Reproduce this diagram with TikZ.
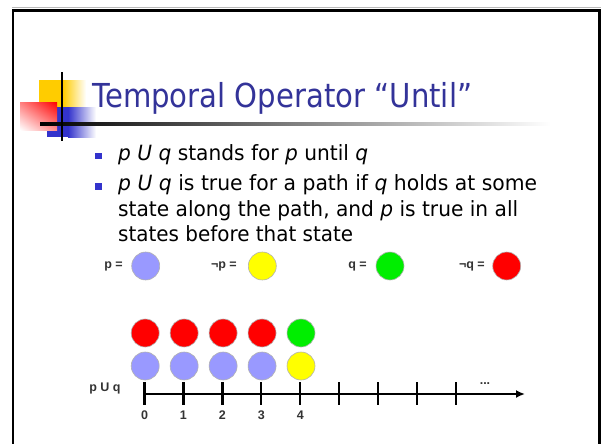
\documentclass[tikz,border=0pt]{standalone}
\usepackage{fontspec}
\setmainfont{DejaVu Sans}
\newfontfamily\lblfont{Liberation Sans}
\usepackage{graphicx}
\usetikzlibrary{arrows.meta,shadings}
\definecolor{titleblue}{HTML}{333399}
\definecolor{bulletblue}{HTML}{3333CC}
\definecolor{logoyellow}{HTML}{FFCC00}
\definecolor{logoblue}{HTML}{3333CC}
\definecolor{logored}{HTML}{FF0000}
\definecolor{pblue}{HTML}{9999FF}
\definecolor{npyellow}{HTML}{FFFF00}
\definecolor{qgreen}{HTML}{00EE00}
\definecolor{nqred}{HTML}{FF0000}
\definecolor{labelgray}{HTML}{333333}
\newcommand{\fitw}[2]{\resizebox{#1}{\height}{#2}}
\begin{document}
\begin{tikzpicture}[x=1pt,y=1pt,
  bodyline/.style={anchor=base west, inner sep=0pt, font=\fontsize{21}{25}\selectfont},
  bulletsq/.style={fill=bulletblue, minimum size=6.5pt, inner sep=0pt},
  ball/.style={circle, minimum size=28pt, inner sep=0pt, draw=gray!60, line width=0.6pt},
  lbl/.style={font=\lblfont\fontsize{12.5}{14}\selectfont\bfseries, text=labelgray, inner sep=0pt},
  tickline/.style={line width=2.2pt},
  frameline/.style={line width=2.5pt}]
\useasboundingbox (0,0) rectangle (602,-444);
\fill[white] (0,0) rectangle (602,-444);
% frame
\draw[gray!55, line width=1pt] (12,-8) -- (601,-8);
\draw[frameline] (13,-444) -- (13,-10.5) -- (599.5,-10.5) -- (599.5,-444);
% logo
\fill[logoyellow] (39,-80) rectangle (63,-107);
\shade[left color=logoyellow, right color=white] (63,-80) rectangle (86,-107);
\fill[logoblue] (47,-107) rectangle (68,-137);
\shade[left color=logoblue, right color=white] (68,-107) rectangle (96,-137);
\shade[upper right=logored, upper left=logored!50!white, lower right=logored!45!white, lower left=white] (20,-102) rectangle (57,-130);
\shade[left color=black, right color=white] (40,-122.8) rectangle (550,-125.2);
\draw[line width=2pt] (62,-72) -- (62,-141);
% title
\node[anchor=base west, inner sep=0pt, text=titleblue, font=\fontsize{33}{40}\selectfont] (title) at (92,-107) {\fitw{380pt}{Temporal Operator “Until”}};
% bullets
\node[bulletsq] (b1) at (98.5,-156.2) {};
\node[bulletsq] (b2) at (98.5,-186.5) {};
\node[bodyline] (l1) at (118,-160.5) {\fitw{250pt}{\textit{p U q} stands for \textit{p} until \textit{q}}};
\node[bodyline] (l2) at (118,-190) {\fitw{419pt}{\textit{p U q} is true for a path if \textit{q} holds at some}};
\node[bodyline] (l3) at (118,-216) {\fitw{400pt}{state along the path, and \textit{p} is true in all}};
\node[bodyline] (l4) at (118,-241.5) {\fitw{235pt}{states before that state}};
% legend
\node[ball, fill=pblue] (lp) at (145.7,-266) {};
\node[lbl, anchor=east] (lpt) at (123,-266) {p =};
\node[ball, fill=npyellow] (lnp) at (262.3,-266) {};
\node[lbl, anchor=east] (lnpt) at (237,-266) {¬p =};
\node[ball, fill=qgreen] (lq) at (390,-266) {};
\node[lbl, anchor=east] (lqt) at (367,-266) {q =};
\node[ball, fill=nqred] (lnq) at (506.7,-266) {};
\node[lbl, anchor=east] (lnqt) at (485,-266) {¬q =};
% states
\foreach \i in {0,...,3} {
  \node[ball, fill=nqred] (r\i) at ({145.2+38.95*\i},-333) {};
  \node[ball, fill=pblue] (s\i) at ({145.2+38.95*\i},-366) {};
}
\node[ball, fill=qgreen] (r4) at ({145.2+38.95*4},-333) {};
\node[ball, fill=npyellow] (s4) at ({145.2+38.95*4},-366) {};
% axis
\coordinate (a0) at (144.5,-394);
\coordinate (aend) at (525,-394);
\draw[line width=2.2pt, -{Latex[length=9pt,width=8pt]}] (a0) -- (aend);
\foreach \i in {0,...,8} {
  \coordinate (t\i) at ({144.5+38.95*\i},-394);
  \draw[tickline] ([yshift=12pt]t\i) -- ([yshift=-11pt]t\i);
}
\foreach \i in {0,...,4} {
  \node[lbl] (n\i) at ({144.5+38.95*\i},-415) {\i};
}
\node[lbl] (puq) at (105,-388) {p U q};
\node[lbl] (dots) at (485,-384) {...};
\end{tikzpicture}
\end{document}
